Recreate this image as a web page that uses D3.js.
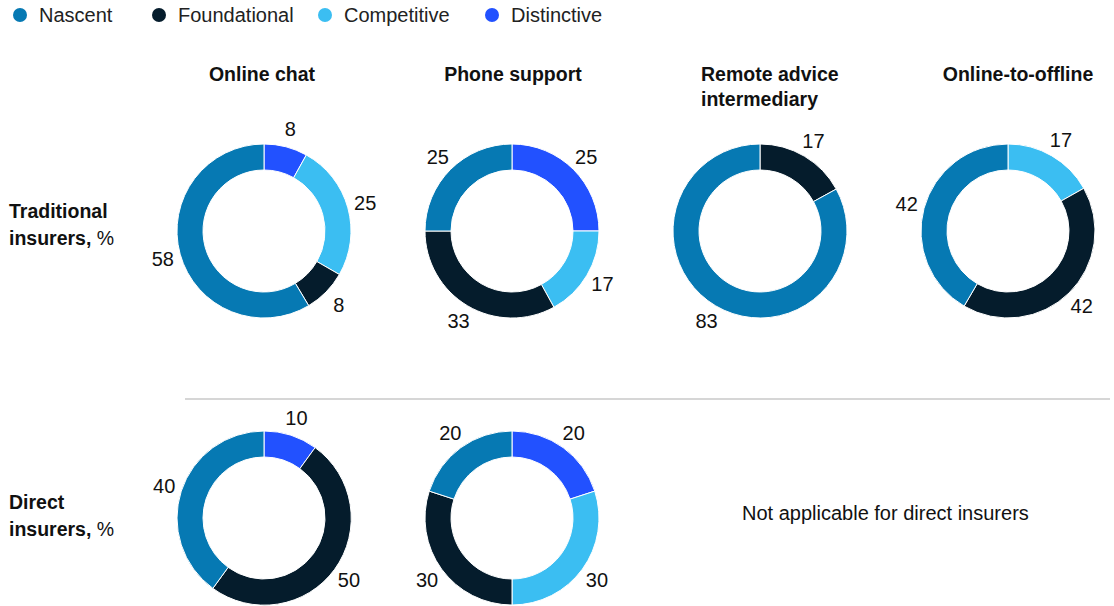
<!DOCTYPE html>
<html>
<head>
<meta charset="utf-8">
<script src="https://cdn.jsdelivr.net/npm/d3@7"></script>
<style>
  body { margin: 0; background: #fff; }
  svg { display: block; font-family: "Liberation Sans", Arial, sans-serif; }
</style>
</head>
<body>
<svg id="chart" width="1114" height="606"></svg>
<script>
// data
const levels = ["Nascent", "Foundational", "Competitive", "Distinctive"];
const colors = ["#0679B3", "#051C2C", "#3BBEF2", "#2251FF"];
const channels = ["Online chat", "Phone support", "Remote advice intermediary", "Online-to-offline"];
const titleLines = [["Online chat"], ["Phone support"], ["Remote advice", "intermediary"], ["Online-to-offline"]];
const rows = ["Traditional", "Direct"];

// values per channel, in order of levels
const traditional = [
  [58, 8, 25, 8],
  [25, 33, 17, 25],
  [83, 17, 0, 0],
  [42, 42, 17, 0]
];
const direct = [
  [40, 50, 0, 10],
  [20, 30, 30, 20]
];

const svg = d3.select("#chart");
const outerR = 87, innerR = 61, labelR = 105;

const x = d3.scalePoint().domain(channels).range([264, 1008]);
const y = d3.scalePoint().domain(rows).range([231, 518]);
const color = d3.scaleOrdinal().domain(levels).range(colors);

// legend
const legendX = [20, 159, 325, 492];
const legend = svg.append("g").selectAll("g")
  .data(levels)
  .join("g")
  .attr("transform", (d, i) => `translate(${legendX[i]},15)`);
legend.append("circle").attr("r", 7).attr("fill", d => color(d));
legend.append("text")
  .attr("x", 19).attr("dy", "0.35em")
  .attr("fill", "#222").style("font-size", "20px")
  .text(d => d);

// column titles
const titleDx = [-2, 1, -59, 10];
const titleAnchor = ["middle", "middle", "start", "middle"];
channels.forEach((c, i) => {
  const t = svg.append("text")
    .attr("x", x(c) + titleDx[i]).attr("y", 81)
    .attr("text-anchor", titleAnchor[i])
    .attr("fill", "#111")
    .style("font-size", "19.5px").style("font-weight", "700");
  titleLines[i].forEach((line, j) => {
    t.append("tspan").attr("x", x(c) + titleDx[i]).attr("dy", j ? 25 : 0).text(line);
  });
});

// row labels
const rowDy = [-13, -9];
rows.forEach((r, i) => {
  const t = svg.append("text").attr("x", 9).attr("y", y(r) + rowDy[i])
    .attr("fill", "#111").style("font-size", "19.5px");
  t.append("tspan").attr("x", 9).style("font-weight", "700").text(r);
  t.append("tspan").attr("x", 9).attr("dy", 27).style("font-weight", "700").text("insurers,");
  t.append("tspan").text(" %");
});

// separator
svg.append("line")
  .attr("x1", 185).attr("x2", 1110)
  .attr("y1", 399).attr("y2", 399)
  .attr("stroke", "#c8c8c8").attr("stroke-width", 1.5);

// donuts
const pie = d3.pie().sort(null).value(d => d.value);
const arc = d3.arc().innerRadius(innerR).outerRadius(outerR);
const labelArc = d3.arc().innerRadius(labelR).outerRadius(labelR);

function drawDonut(vals, cx, cy) {
  // clockwise from top: Distinctive, Competitive, Foundational, Nascent
  const data = levels.map((l, i) => ({ level: l, value: vals[i] })).reverse();
  const g = svg.append("g").attr("transform", `translate(${cx},${cy})`);
  const arcs = pie(data).filter(d => d.data.value > 0);
  g.selectAll("path")
    .data(arcs)
    .join("path")
    .attr("d", arc)
    .attr("fill", d => color(d.data.level))
    .attr("stroke", "#fff").attr("stroke-width", 1);
  g.selectAll("text")
    .data(arcs)
    .join("text")
    .attr("transform", d => `translate(${labelArc.centroid(d)})`)
    .attr("text-anchor", "middle").attr("dy", "0.35em")
    .attr("fill", "#111").style("font-size", "20px")
    .text(d => d.data.value);
}

traditional.forEach((v, i) => drawDonut(v, x(channels[i]), y("Traditional")));
direct.forEach((v, i) => drawDonut(v, x(channels[i]), y("Direct")));

svg.append("text")
  .attr("x", 742).attr("y", 520)
  .attr("fill", "#111").style("font-size", "20px")
  .text("Not applicable for direct insurers");
</script>
</body>
</html>
